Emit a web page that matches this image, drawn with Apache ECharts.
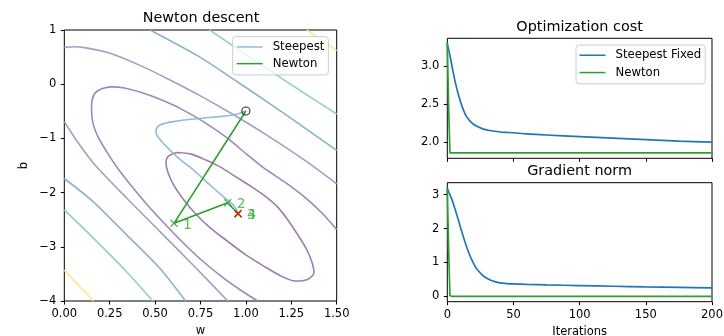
<!DOCTYPE html>
<html><head><meta charset="utf-8">
<script src="https://cdn.jsdelivr.net/npm/echarts@6/dist/echarts.min.js"></script>
<style>html,body{margin:0;padding:0;background:#fff}#c{width:724px;height:336px}</style>
</head><body><div id="c"></div>
<script>
// ---------- Contour lines (w, b) ----------
const contour1 = [[0.623,-1.26],[0.70,-1.29],[0.78,-1.40],[0.86,-1.53],[0.95,-1.72],[1.03,-1.89],[1.10,-2.05],[1.17,-2.25],[1.23,-2.50],[1.29,-2.80],[1.335,-3.05],[1.365,-3.30],[1.375,-3.47],[1.365,-3.54],[1.335,-3.61],[1.30,-3.63],[1.27,-3.63],[1.20,-3.55],[1.10,-3.36],[1.00,-3.15],[0.90,-2.90],[0.80,-2.64],[0.72,-2.38],[0.65,-2.10],[0.60,-1.85],[0.57,-1.62],[0.56,-1.45],[0.57,-1.34],[0.60,-1.28],[0.623,-1.26]];
const contour2 = [[1.5,-2.68],[1.42,-2.38],[1.33,-2.10],[1.22,-1.82],[1.10,-1.55],[1.00,-1.28],[0.90,-1.00],[0.77,-0.70],[0.64,-0.45],[0.52,-0.27],[0.42,-0.15],[0.33,-0.07],[0.26,-0.05],[0.21,-0.08],[0.17,-0.16],[0.153,-0.30],[0.150,-0.50],[0.16,-0.75],[0.19,-1.00],[0.24,-1.28],[0.30,-1.58],[0.37,-1.88],[0.45,-2.20],[0.54,-2.53],[0.64,-2.88],[0.75,-3.23],[0.87,-3.56],[0.98,-3.82],[1.065,-4.0]];
const contour3a = [[0,0.68],[0.05,0.69],[0.12,0.67],[0.252,0.57],[0.435,0.32],[0.582,0.077],[0.747,-0.21],[0.93,-0.56],[1.115,-0.94],[1.335,-1.43],[1.5,-1.84]];
const contour3b = [[0,-0.69],[0.08,-1.10],[0.169,-1.49],[0.343,-2.10],[0.527,-2.72],[0.71,-3.34],[0.9,-4.0]];
const contour4a = [[0.472,1.0],[0.747,0.5],[0.95,0.05],[1.115,-0.32],[1.30,-0.75],[1.5,-1.22]];
const contour4b = [[0,-1.74],[0.16,-2.17],[0.343,-2.78],[0.527,-3.40],[0.668,-4.0]];
const contour5a = [[0.80,1.0],[1.115,0.29],[1.30,-0.12],[1.5,-0.55]];
const contour5b = [[0,-2.32],[0.16,-2.84],[0.343,-3.46],[0.487,-4.0]];
const contour6a = [[1.335,1.0],[1.5,0.62]];
const contour6b = [[0,-3.43],[0.16,-4.0]];

// ---------- Descent paths ----------
const steepestPath = [[1.0,-0.494],[0.931,-0.568],[0.747,-0.630],[0.600,-0.691],[0.527,-0.753],[0.505,-0.845],[0.509,-0.937],[0.545,-1.091],[0.619,-1.337],[0.711,-1.583],[0.802,-1.860],[0.876,-2.075],[0.931,-2.229],[0.955,-2.352],[0.957,-2.39]];
const newtonW = [1.0, 0.604, 0.900, 0.956, 0.957];
const newtonB = [-0.494, -2.567, -2.186, -2.385, -2.39];
const newtonLabels = ['', '1', '2', '3', '4'];
const optimum = [0.957, -2.39];

// ---------- Iteration curves ----------
const itersSteep = [0,2,4,6,8,10,12,14,16,18,20,22,25,28,32,36,40,45,50,60,75,100,125,150,175,200];
const costSteep = [3.30,3.14,2.96,2.79,2.65,2.53,2.43,2.35,2.30,2.26,2.23,2.21,2.185,2.165,2.15,2.14,2.13,2.125,2.12,2.105,2.09,2.07,2.05,2.03,2.01,1.995];
const gradSteep = [3.18,3.0,2.8,2.55,2.3,2.03,1.77,1.53,1.31,1.12,0.96,0.82,0.69,0.58,0.49,0.435,0.40,0.38,0.37,0.355,0.34,0.32,0.30,0.28,0.265,0.255];
const itersNewton = [0,1,2,3,4,200];
const costNewton = [3.31,2.45,1.855,1.855,1.855,1.855];
const gradNewton = [3.2,1.4,0.02,0.0,0.0,0.0];

// ---------- Tick values ----------
const costTicks = [2.0, 2.5, 3.0];
const gradTicks = [0, 1, 2, 3];
const iterTicks = [0, 50, 100, 150, 200];

const FONT = 'DejaVu Sans';
const TICK_FS = 11.5, LEG_FS = 11.7, TITLE_FS = 14.4;
const contourColors = ['#9f7caa','#9d88b8','#9ea0ca','#88b4c8','#8fd4c1','#fce98a'];
const steepColor = '#8fbbd9', newtonColor = '#2ca02c', blue = '#1f77b4';

function contour(data, color) {
  return {type:'line', xAxisIndex:0, yAxisIndex:0, data, showSymbol:false, smooth:0.25,
    lineStyle:{color, width:1.6}, itemStyle:{color}, silent:true, z:1};
}
const xMark = 'path://M0,0L10,10M10,0L0,10';

const chart = echarts.init(document.getElementById('c'), null, {renderer:'canvas'});
const axisCommon = {
  axisLine:{show:false, onZero:false}, splitLine:{show:false},
  axisTick:{show:true, inside:false, length:3.5, lineStyle:{color:'#000', width:1}},
  axisLabel:{color:'#000', fontSize:TICK_FS, fontFamily:FONT}
};
const gridCommon = {show:true, borderColor:'#000', borderWidth:1, backgroundColor:'transparent', containLabel:false, outerBoundsMode:'none'};
const nameStyle = {fontSize:TICK_FS, color:'#000', fontFamily:FONT};
const titleStyle = {fontSize:TITLE_FS, fontWeight:'normal', color:'#000', fontFamily:FONT};

const option = {
  animation:false,
  textStyle:{fontFamily:FONT},
  title:[
    {text:'Newton descent', left:201, top:11, textAlign:'center', padding:0, textStyle:titleStyle},
    {text:'Optimization cost', left:579.6, top:20.2, textAlign:'center', padding:0, textStyle:titleStyle},
    {text:'Gradient norm', left:579.6, top:164, textAlign:'center', padding:0, textStyle:titleStyle}
  ],
  grid:[
    Object.assign({left:64.3, top:30, width:272.4, height:271}, gridCommon),
    Object.assign({left:447.3, top:38.3, width:264.7, height:120}, gridCommon),
    Object.assign({left:447.3, top:182.7, width:264.7, height:119}, gridCommon)
  ],
  xAxis:[
    Object.assign({}, axisCommon, {type:'value', gridIndex:0, min:0, max:1.5, interval:0.25,
      name:'w', nameLocation:'middle', nameGap:24, nameTextStyle:nameStyle,
      axisLabel:Object.assign({}, axisCommon.axisLabel, {margin:7, formatter:v=>v.toFixed(2)})}),
    Object.assign({}, axisCommon, {type:'value', gridIndex:1, min:0, max:200,
      axisTick:Object.assign({}, axisCommon.axisTick, {customValues:iterTicks}),
      axisLabel:{show:false, customValues:iterTicks}}),
    Object.assign({}, axisCommon, {type:'value', gridIndex:2, min:0, max:200,
      name:'Iterations', nameLocation:'middle', nameGap:24, nameTextStyle:nameStyle,
      axisTick:Object.assign({}, axisCommon.axisTick, {customValues:iterTicks}),
      axisLabel:Object.assign({}, axisCommon.axisLabel, {margin:7, customValues:iterTicks})})
  ],
  yAxis:[
    Object.assign({}, axisCommon, {type:'value', gridIndex:0, min:-4, max:1, interval:1,
      name:'b', nameLocation:'middle', nameGap:34, nameTextStyle:nameStyle,
      axisLabel:Object.assign({}, axisCommon.axisLabel, {margin:8, formatter:v=>String(v).replace('-','\u2212')})}),
    Object.assign({}, axisCommon, {type:'value', gridIndex:1, min:1.782, max:3.37,
      axisTick:Object.assign({}, axisCommon.axisTick, {customValues:costTicks}),
      axisLabel:Object.assign({}, axisCommon.axisLabel, {margin:8, customValues:costTicks, formatter:v=>v.toFixed(1)})}),
    Object.assign({}, axisCommon, {type:'value', gridIndex:2, min:-0.155, max:3.35,
      axisTick:Object.assign({}, axisCommon.axisTick, {customValues:gradTicks}),
      axisLabel:Object.assign({}, axisCommon.axisLabel, {margin:8, customValues:gradTicks})})
  ],
  legend:[
    {data:['Steepest','Newton'], orient:'vertical', left:232.7, top:36.7, icon:'rect', itemWidth:26, itemHeight:1.5,
      itemGap:4.2, padding:[4,4,5,4], backgroundColor:'rgba(255,255,255,0.8)', borderColor:'#cccccc', borderWidth:1, borderRadius:3,
      selectedMode:false, textStyle:{fontSize:LEG_FS, color:'#000', fontFamily:FONT, lineHeight:12.5, padding:[0,0,0,5]}},
    {data:['Steepest Fixed','Newton'], orient:'vertical', left:576, top:45, icon:'rect', itemWidth:26, itemHeight:1.5,
      itemGap:4.8, padding:[4,4,5,3.5], backgroundColor:'rgba(255,255,255,0.8)', borderColor:'#cccccc', borderWidth:1, borderRadius:3,
      selectedMode:false, textStyle:{fontSize:LEG_FS, color:'#000', fontFamily:FONT, lineHeight:12.5, padding:[0,0,0,5]}}
  ],
  series:[
    contour(contour1, contourColors[0]),
    contour(contour2, contourColors[1]),
    contour(contour3a, contourColors[2]), contour(contour3b, contourColors[2]),
    contour(contour4a, contourColors[3]), contour(contour4b, contourColors[3]),
    contour(contour5a, contourColors[4]), contour(contour5b, contourColors[4]),
    contour(contour6a, contourColors[5]), contour(contour6b, contourColors[5]),
    {name:'Steepest', type:'line', xAxisIndex:0, yAxisIndex:0, data:steepestPath, showSymbol:false, smooth:0.3,
      lineStyle:{color:steepColor, width:1.6}, itemStyle:{color:steepColor}, z:3},
    {name:'Newton', type:'line', xAxisIndex:0, yAxisIndex:0, data:newtonW.map((w,i)=>[w,newtonB[i]]), showSymbol:false,
      lineStyle:{color:newtonColor, width:1.6}, itemStyle:{color:newtonColor}, z:4},
    {type:'scatter', xAxisIndex:0, yAxisIndex:0, data:newtonW.slice(1).map((w,i)=>[w,newtonB[i+1]]).reverse(),
      symbol:xMark, symbolSize:7, itemStyle:{color:'none', borderColor:newtonColor, borderWidth:1.3}, z:5, silent:true},
    {type:'scatter', xAxisIndex:0, yAxisIndex:0, data:[optimum], symbol:xMark, symbolSize:7,
      itemStyle:{color:'none', borderColor:'#ff0000', borderWidth:1.3}, z:6, silent:true},
    {type:'scatter', xAxisIndex:0, yAxisIndex:0, data:newtonW.slice(1).map((w,i)=>({value:[w,newtonB[i+1]], name:newtonLabels[i+1]})).reverse(),
      symbolSize:0, silent:true, z:7,
      label:{show:true, position:'right', distance:9, offset:[0,2], formatter:p=>p.name, color:'#3aa83a', fontSize:14, fontFamily:FONT}},
    {type:'scatter', xAxisIndex:0, yAxisIndex:0, data:[[newtonW[0],newtonB[0]]], symbol:'circle', symbolSize:8,
      itemStyle:{color:'none', borderColor:'#000', borderWidth:1.1}, z:8, silent:true},
    {name:'Steepest Fixed', type:'line', xAxisIndex:1, yAxisIndex:1, data:itersSteep.map((x,i)=>[x,costSteep[i]]), showSymbol:false, smooth:0.3,
      lineStyle:{color:blue, width:1.7}, itemStyle:{color:blue}},
    {name:'Newton', type:'line', xAxisIndex:1, yAxisIndex:1, data:itersNewton.map((x,i)=>[x,costNewton[i]]), showSymbol:false,
      lineStyle:{color:newtonColor, width:1.7}, itemStyle:{color:newtonColor}},
    {name:'Steepest Fixed', type:'line', xAxisIndex:2, yAxisIndex:2, data:itersSteep.map((x,i)=>[x,gradSteep[i]]), showSymbol:false, smooth:0.3,
      lineStyle:{color:blue, width:1.7}, itemStyle:{color:blue}},
    {name:'Newton', type:'line', xAxisIndex:2, yAxisIndex:2, data:itersNewton.map((x,i)=>[x,gradNewton[i]]), showSymbol:false,
      lineStyle:{color:newtonColor, width:1.7}, itemStyle:{color:newtonColor}}
  ]
};
chart.setOption(option);
</script>
</body></html>
